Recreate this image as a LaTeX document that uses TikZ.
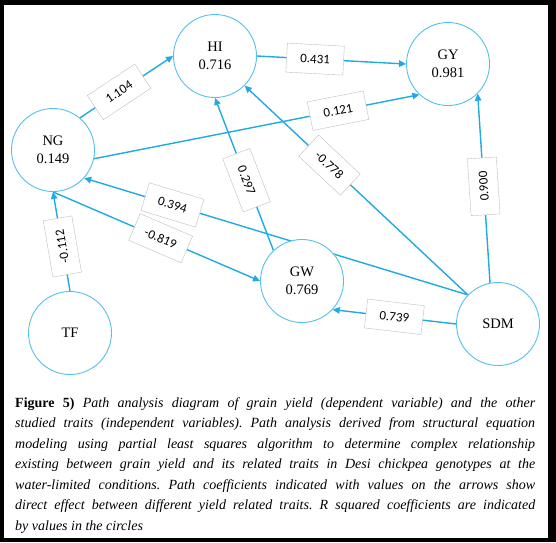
\documentclass[tikz,border=0pt]{standalone}
\usepackage{fontspec}
\setmainfont{Liberation Serif}
\newfontfamily\coeffont{Carlito}
\usetikzlibrary{arrows.meta,backgrounds}
\definecolor{linkblue}{RGB}{32,170,228}
\definecolor{ringblue}{RGB}{86,192,236}
\frenchspacing

\begin{document}
\begin{tikzpicture}[x=1pt, y=-1pt,
      trait/.style={circle, draw=ringblue, line width=0.9pt, fill=white,
                    minimum size=83pt, inner sep=0pt, align=center,
                    font=\fontsize{14.5}{18}\selectfont},
      coef/.style={draw=black!25, line width=0.4pt, fill=white, sloped,
                   minimum width=57pt, minimum height=29pt, inner sep=1pt,
                   font=\coeffont\fontsize{13}{15}\selectfont},
      arr/.style={-{Triangle[length=7pt, width=6.5pt]}, draw=linkblue,
                  line width=1.4pt}]
    \useasboundingbox (0,0) rectangle (556,542);
    \node[trait] (HI) at (215,56) {HI\\0.716};
    \node[trait] (GY) at (448,64) {GY\\0.981};
    \node[trait] (NG) at (53,150) {NG\\0.149};
    \node[trait] (GW) at (302,281) {GW\\0.769};
    \node[trait] (TF) at (70,333) {TF};
    \node[trait] (SDM) at (498,324) {SDM};
    \node[anchor=north west, inner sep=0pt, text width=520pt, align=justify,
          font=\fontsize{14}{20.5}\selectfont\itshape] (cap) at (15,397)
      {\textbf{\textup{Figure 5)}} Path analysis diagram of grain yield (dependent variable) and the other\linebreak
       studied traits (independent variables). Path analysis derived from structural equation\linebreak
       modeling using partial least squares algorithm to determine complex relationship\linebreak
       existing between grain yield and its related traits in Desi chickpea genotypes at the\linebreak
       water-limited conditions. Path coefficients indicated with values on the arrows show\linebreak
       direct effect between different yield related traits. R squared coefficients are indicated\linebreak
       by values in the circles};
    \begin{scope}[on background layer]
      % frame
      \fill (0,0) rectangle (556,542);
      \fill[white] (4,5) rectangle (548,538);
      % paths
      \draw[arr] (NG.50) -- node[coef, pos=0.42] {1.104} (HI.180);
      \draw[arr] (HI.0) -- node[coef, pos=0.39] {0.431} (GY.180);
      \draw[arr] (NG.-12) -- node[coef, pos=0.75] {0.121} (GY.227);
      \draw[arr] (GW.133) -- node[coef, pos=0.46] {0.297} (HI.270);
      \draw[arr] (SDM.136) -- node[coef, pos=0.62] {-0.778} (HI.315);
      \draw[arr] (SDM.101) -- node[coef, pos=0.51, allow upside down] {0.900} (GY.315);
      \draw[arr] (SDM.136) -- node[coef, pos=0.77] {0.394} (NG.318);
      \draw[arr] (NG.270) -- node[coef, pos=0.52] {-0.819} (GW.180);
      \draw[arr] (SDM.180) -- node[coef, pos=0.5] {0.739} (GW.317);
      \draw[arr] (TF.90) -- node[coef, pos=0.45, allow upside down] {-0.112} (NG.270);
    \end{scope}
  \end{tikzpicture}
\end{document}
